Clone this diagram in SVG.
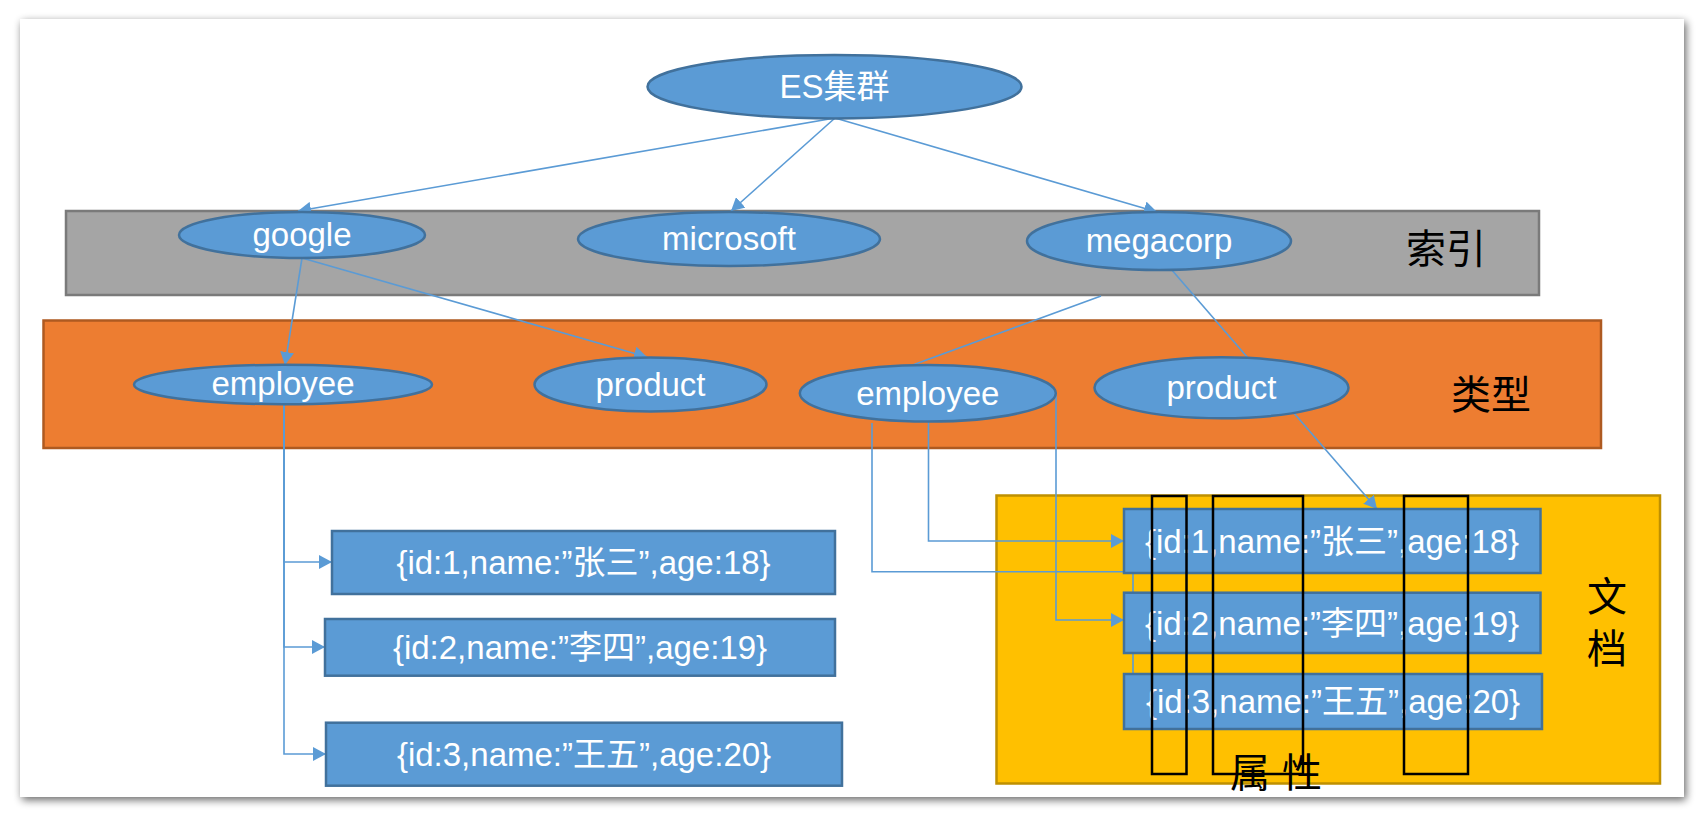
<svg xmlns="http://www.w3.org/2000/svg" width="1704" height="818" viewBox="0 0 1704 818">
<defs>
<filter id="shadow" x="-5%" y="-5%" width="110%" height="112%">
<feGaussianBlur in="SourceAlpha" stdDeviation="4"/>
<feOffset dx="2" dy="3" result="b"/>
<feComponentTransfer><feFuncA type="linear" slope="0.6"/></feComponentTransfer>
<feMerge><feMergeNode/><feMergeNode in="SourceGraphic"/></feMerge>
</filter>
<marker id="arr" markerUnits="userSpaceOnUse" markerWidth="14" markerHeight="14" refX="13" refY="7" orient="auto">
<path d="M0,0 L13,7 L0,14 z" fill="#5B9BD5"/>
</marker>
</defs>
<style>
.node ellipse{fill:#5B9BD5;stroke:#41719C;stroke-width:2.5}
.doc rect{fill:#5B9BD5;stroke:#41719C;stroke-width:2.5}
.t{font-family:"Liberation Sans","Noto Sans CJK SC",sans-serif;font-size:33px;fill:#FFFFFF;text-anchor:middle}
.lbl{font-family:"Noto Sans CJK SC",sans-serif;font-size:40px;fill:#000000}
.conn path{fill:none;stroke:#5B9BD5;stroke-width:1.6}
.attr rect{fill:none;stroke:#000000;stroke-width:2.5}
</style>
<rect x="0" y="0" width="1704" height="818" fill="#FFFFFF"/>
<rect x="20" y="19" width="1664" height="778" fill="#FFFFFF" filter="url(#shadow)"/>

<g id="layer-index">
<rect x="66" y="211" width="1473" height="84" fill="#A5A5A5" stroke="#7A7A7A" stroke-width="2.5"/>
<text class="lbl" x="1406" y="263">索引</text>
</g>
<g id="layer-type">
<rect x="43.5" y="320.5" width="1557.5" height="127.5" fill="#ED7D31" stroke="#AE5A21" stroke-width="2.5"/>
<text class="lbl" x="1451" y="409">类型</text>
</g>
<g id="layer-doc">
<rect x="996.5" y="495.5" width="663.5" height="288" fill="#FFC000" stroke="#BF9000" stroke-width="2.5"/>
<text class="lbl" x="1607" y="576" letter-spacing="12" style="writing-mode:vertical-rl">文档</text>
</g>

<g id="connectors" class="conn">
<path d="M835,118 L298,211" marker-end="url(#arr)"/>
<path d="M835,118 L731,211" marker-end="url(#arr)"/>
<path d="M835,118 L1157,212" marker-end="url(#arr)"/>
<path d="M302,258 L285,365" marker-end="url(#arr)"/>
<path d="M302,258 L647,357" marker-end="url(#arr)"/>
<path d="M1101,296 L910,366"/>
<path d="M1171,269 L1248,358"/>
<path d="M1293,412 L1377,509" marker-end="url(#arr)"/>
<path d="M284,404 V562 H332" marker-end="url(#arr)"/>
<path d="M284,404 V647 H325" marker-end="url(#arr)"/>
<path d="M284,404 V754 H326" marker-end="url(#arr)"/>
<path d="M928.5,421 V541 H1124" marker-end="url(#arr)"/>
<path d="M1056,392 V620 H1124" marker-end="url(#arr)"/>
<path d="M872,423 V571.7 H1133 V674"/>
</g>

<g id="es" class="node">
<ellipse cx="834.5" cy="86.7" rx="187" ry="31.7"/>
<text class="t" x="834.5" y="98">ES集群</text>
</g>
<g id="google" class="node">
<ellipse cx="302" cy="235" rx="123" ry="23"/>
<text class="t" x="302" y="246">google</text>
</g>
<g id="microsoft" class="node">
<ellipse cx="729" cy="239" rx="151" ry="27"/>
<text class="t" x="729" y="250">microsoft</text>
</g>
<g id="megacorp" class="node">
<ellipse cx="1159" cy="241" rx="132" ry="29"/>
<text class="t" x="1159" y="252">megacorp</text>
</g>
<g id="employee1" class="node">
<ellipse cx="283" cy="384.5" rx="149" ry="19.7"/>
<text class="t" x="283" y="395">employee</text>
</g>
<g id="product1" class="node">
<ellipse cx="650.5" cy="384.5" rx="116" ry="27"/>
<text class="t" x="650.5" y="395.5">product</text>
</g>
<g id="employee2" class="node">
<ellipse cx="927.8" cy="393.3" rx="128" ry="28.3"/>
<text class="t" x="927.8" y="404.5">employee</text>
</g>
<g id="product2" class="node">
<ellipse cx="1221.5" cy="387.8" rx="127" ry="30.5"/>
<text class="t" x="1221.5" y="399">product</text>
</g>

<g id="doc-left-1" class="doc">
<rect x="332" y="531" width="503" height="63"/>
<text class="t" x="583.5" y="574">{id:1,name:”张三”,age:18}</text>
</g>
<g id="doc-left-2" class="doc">
<rect x="325" y="619" width="510" height="56.7"/>
<text class="t" x="580" y="659">{id:2,name:”李四”,age:19}</text>
</g>
<g id="doc-left-3" class="doc">
<rect x="326" y="722.7" width="516" height="63"/>
<text class="t" x="584" y="766">{id:3,name:”王五”,age:20}</text>
</g>
<g id="doc-right-1" class="doc">
<rect x="1124" y="509" width="416.5" height="64"/>
<text class="t" x="1332" y="552.5">{id:1,name:”张三”,age:18}</text>
</g>
<g id="doc-right-2" class="doc">
<rect x="1124" y="592.7" width="416.5" height="60.3"/>
<text class="t" x="1332" y="634.5">{id:2,name:”李四”,age:19}</text>
</g>
<g id="doc-right-3" class="doc">
<rect x="1124" y="674" width="418" height="55"/>
<text class="t" x="1333" y="713">{id:3,name:”王五”,age:20}</text>
</g>

<g id="attributes" class="attr">
<rect x="1152" y="496" width="34.5" height="278"/>
<rect x="1213" y="496" width="90" height="278"/>
<rect x="1404" y="496" width="64" height="278"/>
<text class="lbl" x="1230" y="787" letter-spacing="12" style="stroke:none">属性</text>
</g>
</svg>
